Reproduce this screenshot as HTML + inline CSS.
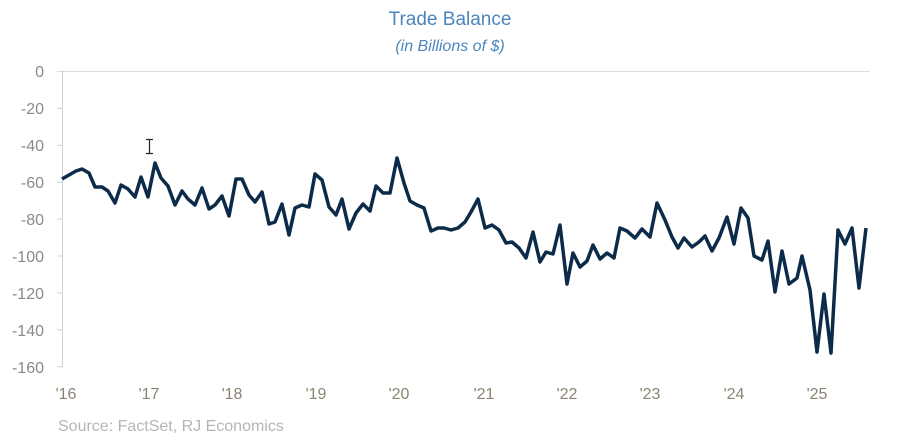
<!DOCTYPE html>
<html><head><meta charset="utf-8"><style>
html,body{margin:0;padding:0;background:#fff;}
svg{display:block;font-family:"Liberation Sans",sans-serif;}
</style></head><body>
<svg width="902" height="448" viewBox="0 0 902 448" xmlns="http://www.w3.org/2000/svg">
<text x="450" y="25" text-anchor="middle" font-size="19" fill="#4a86bd">Trade Balance</text>
<text x="450" y="51" text-anchor="middle" font-size="16" font-style="italic" fill="#4a86bd">(in Billions of $)</text>
<line x1="57" y1="71.5" x2="870" y2="71.5" stroke="#dcdcdc" stroke-width="1"/>
<line x1="62.5" y1="71" x2="62.5" y2="367" stroke="#d0d0d0" stroke-width="1"/>
<g stroke="#d0d0d0" stroke-width="1">
<line x1="57" y1="108.4" x2="62" y2="108.4"/><line x1="57" y1="145.3" x2="62" y2="145.3"/>
<line x1="57" y1="182.2" x2="62" y2="182.2"/><line x1="57" y1="219.1" x2="62" y2="219.1"/>
<line x1="57" y1="256" x2="62" y2="256"/><line x1="57" y1="292.9" x2="62" y2="292.9"/>
<line x1="57" y1="329.8" x2="62" y2="329.8"/><line x1="57" y1="366.7" x2="62" y2="366.7"/>
</g>
<g font-size="16" fill="#8a8a8a" text-anchor="end">
<text x="44" y="77">0</text><text x="44" y="114">-20</text><text x="44" y="151">-40</text>
<text x="44" y="188">-60</text><text x="44" y="225">-80</text><text x="44" y="262">-100</text>
<text x="44" y="299">-120</text><text x="44" y="336">-140</text><text x="44" y="373">-160</text>
</g>
<g font-size="16" fill="#8c8472" text-anchor="middle">
<text x="66" y="399">'16</text><text x="149" y="399">'17</text><text x="232" y="399">'18</text>
<text x="316" y="399">'19</text><text x="399" y="399">'20</text><text x="484" y="399">'21</text>
<text x="567" y="399">'22</text><text x="650" y="399">'23</text><text x="734" y="399">'24</text>
<text x="817" y="399">'25</text>
</g>
<text x="58" y="431" font-size="16" fill="#b5b5b5">Source: FactSet, RJ Economics</text>
<polyline fill="none" stroke="#0c2b4a" stroke-width="3.5" stroke-linejoin="round" points="62,179 69,175 76,171 82,169 89,173 95,187 102,187 108,191 115,203 121,185 128,189 135,197 141,177 148,197 155,163 161,178 168,186 175,205 182,191 188,199 195,205 202,188 209,209 215,205 222,196 229,216 236,179 242,179 249,195 255,202 262,192 269,224 275,222 282,204 289,235 295,208 302,205 309,207 315,174 322,180 329,207 336,215 342,199 349,229 356,213 363,204 370,211 376,186 383,193 390,193 397,158 404,183 410,201 417,205 424,208 431,231 438,228 444,228 451,230 458,228 465,222 471,212 478,199 485,228 492,225 499,230 506,243 512,242 519,248 526,258 533,232 540,262 546,252 553,254 560,225 567,284 573,253 580,267 587,261 593,245 600,259 607,253 614,258 620,228 627,231 635,238 642,229 650,237 657,203 665,220 672,237 678,248 684,238 692,247 699,242 705,236 712,251 719,238 727,217 734,244 741,208 748,218 754,256 762,260 768,241 775,292 782,251 789,284 797,278 802,256 810,290 817,352 824,294 831,353 838,230 845,244 852,228 859,288 866,228"/>
<g stroke="#222" stroke-width="1.2" fill="none">
<line x1="149.5" y1="140" x2="149.5" y2="153"/>
<line x1="146" y1="139.5" x2="153" y2="139.5"/>
<line x1="146" y1="153.5" x2="153" y2="153.5"/>
</g>
</svg>
</body></html>
